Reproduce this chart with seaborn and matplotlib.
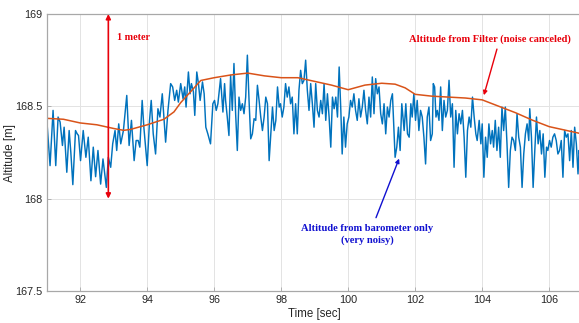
import matplotlib
matplotlib.use("Agg")
import matplotlib.pyplot as plt
import seaborn as sns
import pandas as pd

# Filtered altitude (Kalman filter output)
filter_time = [91.0, 91.5, 92.0, 92.5, 93.0, 93.3, 93.5, 94.0, 94.5, 94.8, 95.0, 95.3,
               95.6, 96.0, 96.5, 97.0, 97.5, 98.0, 98.5, 99.0, 99.5, 100.0, 100.5,
               101.0, 101.4, 101.7, 102.0, 102.5, 103.0, 103.5, 104.0, 104.5, 105.0,
               105.5, 106.0, 106.5, 107.0]
filter_alt = [168.435, 168.43, 168.41, 168.40, 168.38, 168.37, 168.375, 168.40, 168.43,
              168.47, 168.52, 168.58, 168.64, 168.655, 168.67, 168.68, 168.665, 168.655,
              168.655, 168.635, 168.615, 168.59, 168.615, 168.625, 168.62, 168.60,
              168.565, 168.555, 168.55, 168.545, 168.535, 168.50, 168.465, 168.425,
              168.39, 168.37, 168.35]

# Raw barometer altitude
baro_time = [91.00, 91.04, 91.10, 91.19, 91.27, 91.34, 91.40, 91.47, 91.52, 91.60, 91.67,
             91.72, 91.78, 91.86, 91.91, 91.95, 92.01, 92.09, 92.17, 92.24, 92.32, 92.39,
             92.46, 92.53, 92.61, 92.68, 92.78, 92.84, 92.91, 92.97, 93.04, 93.09, 93.15,
             93.21, 93.29, 93.39, 93.46, 93.53, 93.61, 93.67,
             93.73, 93.78, 93.85, 93.90, 94.00, 94.07, 94.12, 94.18, 94.25, 94.32, 94.38,
             94.45, 94.55, 94.62, 94.70, 94.76, 94.82, 94.88, 94.93, 95.00, 95.07, 95.12,
             95.16, 95.23, 95.28, 95.32, 95.38, 95.42, 95.48, 95.53, 95.58, 95.65, 95.70,
             95.75, 95.81, 95.89, 95.96, 96.01, 96.06, 96.11, 96.19, 96.26, 96.31,
             96.34, 96.39, 96.44, 96.49, 96.54, 96.59, 96.64, 96.69, 96.74, 96.79, 96.84,
             96.89, 96.94, 96.99, 97.04, 97.09, 97.14, 97.19, 97.24, 97.29, 97.34, 97.39,
             97.44, 97.49, 97.54, 97.59, 97.64, 97.69, 97.74, 97.79, 97.84, 97.89, 97.94,
             97.98, 98.03, 98.08, 98.13, 98.18, 98.23, 98.28, 98.33, 98.38, 98.43, 98.48,
             98.53, 98.58, 98.63, 98.68, 98.73, 98.78, 98.83, 98.88, 98.93, 98.98,
             99.03, 99.08, 99.13, 99.18, 99.23, 99.28, 99.33, 99.38, 99.43, 99.48, 99.53,
             99.58, 99.63, 99.68, 99.73, 99.78, 99.82, 99.87, 99.92, 99.97, 100.02, 100.07,
             100.12, 100.17, 100.22, 100.27, 100.32, 100.37, 100.42, 100.47, 100.52,
             100.57, 100.62, 100.67, 100.72, 100.77, 100.82, 100.87, 100.92, 100.97,
             101.02, 101.07, 101.12, 101.17, 101.22, 101.27, 101.32, 101.37, 101.40,
             101.45, 101.50, 101.55, 101.60, 101.67, 101.72,
             101.77, 101.82, 101.87, 101.91, 101.96, 102.01, 102.06, 102.11, 102.16,
             102.21, 102.26, 102.31, 102.36, 102.41, 102.46, 102.51, 102.54, 102.58,
             102.62, 102.66, 102.71, 102.76, 102.81, 102.86, 102.91, 102.96, 103.01,
             103.06, 103.11, 103.16, 103.21, 103.26, 103.31, 103.36, 103.41, 103.46,
             103.51, 103.56, 103.61, 103.66, 103.71, 103.76, 103.81, 103.85, 103.91,
             103.96, 104.00, 104.05, 104.10, 104.15, 104.20, 104.25, 104.30,
             104.34, 104.39, 104.44, 104.49, 104.54, 104.59, 104.64, 104.69, 104.74,
             104.79, 104.84, 104.89, 104.94, 104.99, 105.04, 105.09, 105.14, 105.19,
             105.24, 105.29, 105.34, 105.39, 105.42, 105.47, 105.52, 105.57, 105.62,
             105.67, 105.72, 105.77, 105.82, 105.87, 105.92, 105.96, 106.01, 106.06,
             106.11, 106.16, 106.21, 106.26, 106.31, 106.36, 106.41, 106.46, 106.51,
             106.56, 106.61, 106.66, 106.71, 106.76, 106.81, 106.86, 106.89, 106.95]
baro_alt = [168.433, 168.333, 168.179, 168.478, 168.179, 168.442, 168.415, 168.288, 168.387,
            168.143, 168.369, 168.251, 168.076, 168.369, 168.351, 168.342, 168.206, 168.369,
            168.224, 168.333, 168.097, 168.279, 168.119, 168.261, 168.079, 168.215, 168.061,
            168.224, 168.170, 168.297, 168.369, 168.261, 168.405, 168.297, 168.369, 168.559,
            168.288, 168.424, 168.206, 168.315,
            168.315, 168.279, 168.532, 168.387, 168.179, 168.424, 168.532, 168.351, 168.242,
            168.487, 168.442, 168.568, 168.306, 168.478, 168.623, 168.605, 168.532, 168.587,
            168.523, 168.623, 168.541, 168.605, 168.496, 168.686, 168.568, 168.623, 168.578,
            168.451, 168.686, 168.623, 168.532, 168.632, 168.568, 168.387, 168.351, 168.297,
            168.514, 168.532, 168.478, 168.514, 168.650, 168.469, 168.623,
            168.532, 168.442, 168.342, 168.668, 168.478, 168.732, 168.460, 168.261, 168.550,
            168.478, 168.514, 168.460, 168.550, 168.777, 168.532, 168.324, 168.351, 168.433,
            168.424, 168.614, 168.532, 168.442, 168.369, 168.442, 168.550, 168.514, 168.206,
            168.351, 168.496, 168.369, 168.424, 168.605, 168.496, 168.514, 168.442, 168.496,
            168.623, 168.550, 168.605, 168.514, 168.550, 168.351, 168.514, 168.351, 168.587,
            168.695, 168.623, 168.641, 168.750, 168.587, 168.478, 168.623, 168.514, 168.387,
            168.623, 168.478, 168.442, 168.532, 168.460, 168.623, 168.424, 168.568, 168.442,
            168.279, 168.550, 168.487, 168.550, 168.442, 168.713, 168.478, 168.242, 168.442,
            168.279, 168.405, 168.442, 168.532, 168.496, 168.568, 168.478, 168.424, 168.541,
            168.442, 168.496, 168.587, 168.478, 168.405, 168.550, 168.442, 168.659, 168.460,
            168.650, 168.568, 168.605, 168.460, 168.405, 168.514, 168.351, 168.496, 168.442,
            168.532, 168.568, 168.351, 168.224, 168.279, 168.387, 168.261, 168.514, 168.369,
            168.514,
            168.351, 168.333, 168.514, 168.442, 168.568, 168.424, 168.532, 168.369, 168.478,
            168.442, 168.333, 168.188, 168.442, 168.496, 168.315, 168.351, 168.623, 168.605,
            168.442, 168.478, 168.424, 168.605, 168.369, 168.532, 168.442, 168.478, 168.641,
            168.442, 168.514, 168.170, 168.478, 168.351, 168.460, 168.405, 168.478, 168.333,
            168.116, 168.369, 168.442, 168.387, 168.550, 168.442, 168.351, 168.315, 168.424,
            168.297, 168.405, 168.116, 168.333, 168.224, 168.405, 168.297, 168.369,
            168.279, 168.424, 168.261, 168.387, 168.224, 168.496, 168.369, 168.496, 168.297,
            168.061, 168.261, 168.333, 168.315, 168.261, 168.460, 168.333, 168.279, 168.061,
            168.242, 168.351, 168.405, 168.315, 168.487, 168.333, 168.061, 168.261, 168.442,
            168.297, 168.369, 168.242, 168.351, 168.116, 168.279, 168.261, 168.315, 168.279,
            168.333, 168.351, 168.315, 168.242, 168.261, 168.315, 168.116, 168.369, 168.333,
            168.351, 168.206, 168.369, 168.170, 168.387, 168.297, 168.134, 168.261, 168.200]

x_ticks = [92, 94, 96, 98, 100, 102, 104, 106]
y_ticks = [167.5, 168, 168.5, 169]
y_tick_labels = ["167.5", "168", "168.5", "169"]

sns.set_style("whitegrid")
plt.rcParams['font.family'] = ['Liberation Sans', 'DejaVu Sans']

fig = plt.figure(figsize=(5.79, 3.23), dpi=100)
ax = fig.add_axes([46.7 / 579, 1 - 291 / 323, 536 / 579, 277 / 323])

baro_df = pd.DataFrame({"t": baro_time, "alt": baro_alt})
filt_df = pd.DataFrame({"t": filter_time, "alt": filter_alt})
sns.lineplot(data=baro_df, x="t", y="alt", ax=ax, color="#0072BD", lw=1.05,
             estimator=None, sort=False)
sns.lineplot(data=filt_df, x="t", y="alt", ax=ax, color="#D95319", lw=1.1,
             estimator=None, sort=False)

ax.set_xlim(91, 107)
ax.set_ylim(167.5, 169)
ax.set_xticks(x_ticks)
ax.set_xticklabels([str(v) for v in x_ticks])
ax.set_yticks(y_ticks)
ax.set_yticklabels(y_tick_labels)
ax.grid(True, color="#e3e3e3", lw=0.7)
for s in ax.spines.values():
    s.set_visible(True)
    s.set_color("#a8a8a8")
    s.set_linewidth(0.9)
ax.tick_params(direction="in", length=3, width=0.6, color="#a8a8a8",
               labelsize=7.8, labelcolor="#262626", pad=3,
               top=False, right=True, left=True, bottom=True)
ax.set_xlabel("Time [sec]", fontsize=8.3, color="#262626", labelpad=2)
ax.set_ylabel("Altitude [m]", fontsize=8.3, color="#262626")
ax.yaxis.set_label_coords(-(46.7 - 16) / 536, 0.5)

# 1 meter double arrow
ax.annotate("", xy=(92.84, 169.0), xytext=(92.84, 168.0),
            arrowprops=dict(arrowstyle="<|-|>", color="#e8000b", lw=1.2,
                            mutation_scale=7, shrinkA=0, shrinkB=0))
ax.text(93.1, 168.875, "1 meter", color="#e8000b", fontsize=7.3,
        fontweight="bold", family="Liberation Serif", va="center", ha="left")

ax.text(104.24, 168.864, "Altitude from Filter (noise canceled)", color="#e8000b",
        fontsize=7.6, fontweight="bold", family="Liberation Serif",
        ha="center", va="center")
ax.annotate("", xy=(104.05, 168.56), xytext=(104.44, 168.81),
            arrowprops=dict(arrowstyle="-|>", color="#e8000b", lw=1.0,
                            mutation_scale=6, shrinkA=0, shrinkB=0))

ax.annotate("", xy=(101.52, 168.217), xytext=(100.83, 167.897),
            arrowprops=dict(arrowstyle="-|>", color="#1010d0", lw=1.0,
                            mutation_scale=6, shrinkA=0, shrinkB=0))
ax.text(100.57, 167.805, "Altitude from barometer only\n(very noisy)", color="#1010d0",
        fontsize=7.6, fontweight="bold", family="Liberation Serif", ha="center",
        va="center", multialignment="center", linespacing=1.25)

fig.savefig("out.png", dpi=100)
